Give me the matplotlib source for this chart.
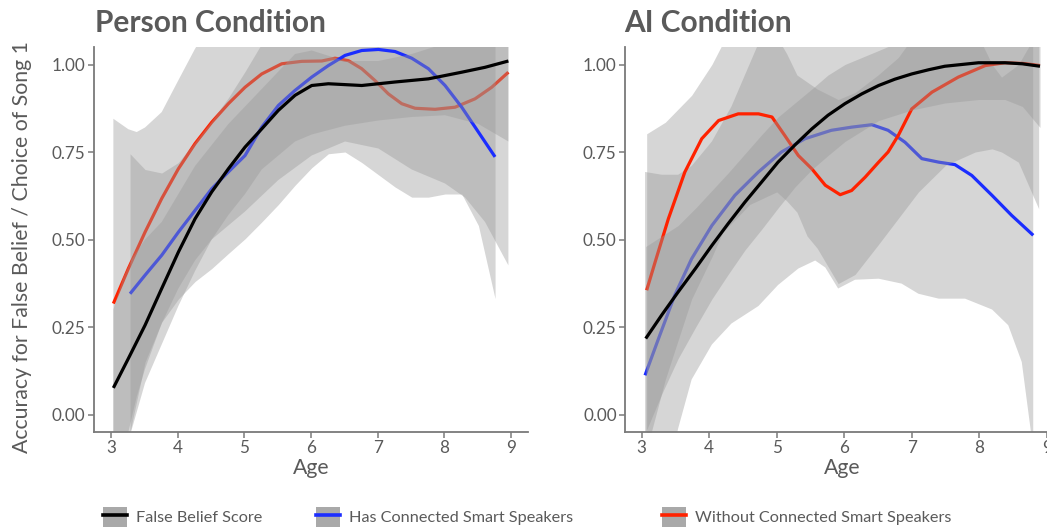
import numpy as np
import matplotlib
matplotlib.use("Agg")
import matplotlib.pyplot as plt
from matplotlib.patches import Patch
from matplotlib.lines import Line2D
from matplotlib.legend_handler import HandlerTuple

plt.rcParams['font.family'] = ['Lato', 'DejaVu Sans']

# ---------------- Person condition ----------------
p_fb_x = [3.035, 3.26, 3.51, 3.76, 4.01, 4.26, 4.51, 4.76, 5.01, 5.26, 5.51, 5.76,
          6.01, 6.26, 6.76, 7.26, 7.76, 8.26, 8.61, 8.96]
p_fb_y = [0.076, 0.16, 0.255, 0.36, 0.464, 0.559, 0.636, 0.702, 0.764, 0.816, 0.869, 0.912,
          0.94, 0.945, 0.94, 0.95, 0.959, 0.978, 0.992, 1.01]
p_fb_bx = [3.035, 3.18, 3.3, 3.51, 3.76, 4.01, 4.26, 4.51, 4.76, 5.01, 5.26, 5.51, 5.76,
           6.01, 6.51, 7.01, 7.51, 8.01, 8.51, 8.96]
p_fb_lo = [-0.3, -0.15, -0.05, 0.09, 0.2, 0.31, 0.41, 0.50, 0.57, 0.63, 0.70, 0.74, 0.78,
           0.80, 0.825, 0.84, 0.85, 0.855, 0.83, 0.78]
p_fb_hi = [0.30, 0.39, 0.44, 0.50, 0.55, 0.63, 0.71, 0.77, 0.83, 0.88, 0.93, 0.98, 1.03,
           1.04, 1.01, 1.01, 1.03, 1.06, 1.15, 1.24]

p_has_x = [3.285, 3.51, 3.76, 4.01, 4.26, 4.51, 4.76, 5.01, 5.26, 5.51, 5.76, 6.01, 6.26,
           6.51, 6.76, 7.01, 7.26, 7.51, 7.76, 8.01, 8.26, 8.51, 8.76]
p_has_y = [0.345, 0.398, 0.455, 0.521, 0.583, 0.645, 0.693, 0.740, 0.821, 0.883, 0.926, 0.964,
           0.997, 1.026, 1.04, 1.043, 1.037, 1.018, 0.988, 0.940, 0.878, 0.807, 0.736]
p_has_lo = [-0.05, 0.15, 0.264, 0.33, 0.38, 0.417, 0.46, 0.502, 0.55, 0.60, 0.655, 0.705,
            0.745, 0.75, 0.72, 0.685, 0.65, 0.621, 0.621, 0.63, 0.63, 0.54, 0.331]
p_has_hi = [0.745, 0.70, 0.69, 0.72, 0.78, 0.84, 0.905, 0.98, 1.06, 1.12, 1.16, 1.2,
            1.2, 1.2, 1.2, 1.2, 1.2, 1.2, 1.2, 1.18, 1.16, 1.15, 1.14]

p_wo_x = [3.035, 3.26, 3.51, 3.76, 4.01, 4.26, 4.51, 4.76, 5.01, 5.26, 5.56, 5.86, 6.16,
          6.36, 6.56, 6.76, 6.96, 7.16, 7.36, 7.56, 7.86, 8.16, 8.46, 8.71, 8.96]
p_wo_y = [0.317, 0.417, 0.521, 0.617, 0.702, 0.774, 0.835, 0.888, 0.935, 0.973, 1.002, 1.009,
          1.01, 1.018, 1.011, 0.988, 0.954, 0.916, 0.888, 0.875, 0.872, 0.878, 0.902, 0.935, 0.978]
p_wo_bx = [3.035, 3.26, 3.385, 3.51, 3.76, 4.01, 4.26, 4.51, 5.01, 5.51, 6.01, 6.51, 7.01,
           7.51, 8.01, 8.31, 8.61, 8.96]
p_wo_lo = [-0.3, -0.05, 0.05, 0.13, 0.26, 0.36, 0.44, 0.50, 0.58, 0.67, 0.74, 0.78, 0.76,
           0.70, 0.66, 0.62, 0.55, 0.426]
p_wo_hi = [0.845, 0.815, 0.807, 0.82, 0.864, 0.955, 1.045, 1.12, 1.2, 1.2, 1.2, 1.2, 1.2,
           1.2, 1.2, 1.2, 1.3, 1.5]

# ---------------- AI condition ----------------
a_fb_x = [3.06, 3.3, 3.54, 3.8, 4.04, 4.28, 4.53, 4.78, 5.02, 5.27, 5.52, 5.76, 6.01,
          6.26, 6.51, 6.75, 7.0, 7.25, 7.49, 7.74, 7.99, 8.38, 8.64, 8.9]
a_fb_y = [0.217, 0.285, 0.35, 0.418, 0.483, 0.545, 0.607, 0.665, 0.721, 0.77, 0.816, 0.855,
          0.888, 0.916, 0.94, 0.958, 0.973, 0.985, 0.995, 1.0, 1.005, 1.005, 1.002, 0.995]
a_fb_bx = [3.06, 3.3, 3.54, 3.8, 4.04, 4.28, 4.53, 4.78, 5.02, 5.27, 5.52, 5.76, 6.01,
           6.51, 7.0, 7.49, 7.99, 8.38, 8.64, 8.9]
a_fb_lo = [-0.05, 0.06, 0.16, 0.25, 0.33, 0.40, 0.47, 0.53, 0.59, 0.65, 0.70, 0.74, 0.78,
           0.84, 0.87, 0.89, 0.9, 0.9, 0.88, 0.82]
a_fb_hi = [0.48, 0.51, 0.54, 0.59, 0.64, 0.69, 0.745, 0.80, 0.85, 0.89, 0.93, 0.97, 1.0,
           1.04, 1.08, 1.1, 1.11, 1.11, 1.13, 1.17]

a_has_x = [3.05, 3.25, 3.49, 3.74, 4.04, 4.38, 4.73, 5.07, 5.42, 5.81, 6.11, 6.41, 6.65,
           6.9, 7.15, 7.4, 7.64, 7.89, 8.19, 8.48, 8.8]
a_has_y = [0.112, 0.217, 0.341, 0.445, 0.54, 0.626, 0.693, 0.75, 0.788, 0.812, 0.821, 0.828,
           0.812, 0.778, 0.731, 0.721, 0.714, 0.683, 0.626, 0.569, 0.512]
a_has_bx = [3.05, 3.3, 3.54, 3.74, 4.04, 4.33, 4.73, 5.02, 5.32, 5.57, 5.72, 5.91, 6.16,
            6.51, 6.85, 7.1, 7.4, 7.79, 8.19, 8.43, 8.63, 8.8]
a_has_lo = [-0.5, -0.25, -0.04, 0.10, 0.2, 0.26, 0.31, 0.37, 0.417, 0.44, 0.42, 0.36, 0.385,
            0.388, 0.374, 0.345, 0.331, 0.331, 0.3, 0.255, 0.15, -0.1]
a_has_hi = [0.693, 0.685, 0.685, 0.71, 0.78, 0.88, 1.06, 1.15, 1.2, 1.22, 1.24, 1.25, 1.27,
            1.27, 1.25, 1.2, 1.15, 1.12, 1.1, 1.1, 1.1, 1.12]

a_wo_x = [3.074, 3.2, 3.395, 3.64, 3.89, 4.14, 4.43, 4.73, 4.93, 5.12, 5.32, 5.52, 5.72,
          5.94, 6.11, 6.31, 6.51, 6.65, 6.8, 7.0, 7.3, 7.69, 8.09, 8.38, 8.65, 8.9]
a_wo_y = [0.355, 0.436, 0.559, 0.693, 0.788, 0.84, 0.859, 0.859, 0.85, 0.797, 0.74, 0.702,
          0.655, 0.628, 0.64, 0.678, 0.721, 0.75, 0.797, 0.873, 0.921, 0.964, 0.997, 1.005,
          1.003, 0.997]
a_wo_bx = [3.074, 3.35, 3.74, 4.04, 4.2, 4.6, 5.0, 5.15, 5.3, 5.45, 5.6, 5.91, 6.16, 6.5,
           6.8, 7.1, 7.5, 7.94, 8.19, 8.33, 8.58, 8.88]
a_wo_lo = [-0.1, 0.1, 0.33, 0.45, 0.52, 0.6, 0.636, 0.61, 0.578, 0.51, 0.475, 0.374, 0.40,
           0.484, 0.56, 0.636, 0.712, 0.75, 0.759, 0.75, 0.721, 0.588]
a_wo_hi = [0.802, 0.835, 0.912, 1.0, 1.06, 1.12, 1.08, 1.03, 0.97, 0.95, 0.93, 0.90, 0.92,
           0.97, 1.02, 1.1, 1.15, 1.1, 1.0, 0.964, 1.0, 1.1]

labels = ["False Belief Score", "Has Connected Smart Speakers", "Without Connected Smart Speakers"]
colors = {"fb": "black", "has": "#1b2dff", "wo": "#ff2200"}
ribbon = "#999999"
txt = "#5a5a5a"

fig = plt.figure(figsize=(10.47, 5.29), dpi=100)
W, H = 1047, 529
ax1 = fig.add_axes([93.7 / W, 97 / H, 434.3 / W, 385 / H])
ax2 = fig.add_axes([625 / W, 97 / H, 442 / W, 385 / H])


def band(ax, bx, lo, hi, x, y, c, z):
    # ribbon then its line; later ribbons wash out earlier lines
    ax.fill_between(bx, lo, hi, color=ribbon, alpha=0.4, lw=0, zorder=z)
    ax.plot(x, y, color=c, lw=2.3, solid_capstyle='butt', zorder=z + 0.5)


# person panel: red, blue, black
band(ax1, p_wo_bx, p_wo_lo, p_wo_hi, p_wo_x, p_wo_y, colors["wo"], 1)
band(ax1, p_has_x, p_has_lo, p_has_hi, p_has_x, p_has_y, colors["has"], 2)
band(ax1, p_fb_bx, p_fb_lo, p_fb_hi, p_fb_x, p_fb_y, colors["fb"], 3)

# AI panel: blue, red, black
band(ax2, a_has_bx, a_has_lo, a_has_hi, a_has_x, a_has_y, colors["has"], 1)
band(ax2, a_wo_bx, a_wo_lo, a_wo_hi, a_wo_x, a_wo_y, colors["wo"], 2)
band(ax2, a_fb_bx, a_fb_lo, a_fb_hi, a_fb_x, a_fb_y, colors["fb"], 3)

for ax, xl in ((ax1, (2.74, 9.254)), (ax2, (2.753, 9.30))):
    ax.set_xlim(*xl)
    ax.set_ylim(-0.05, 1.05)
    ax.set_xticks(range(3, 10))
    ax.set_yticks([0, 0.25, 0.5, 0.75, 1.0])
    ax.set_yticklabels(["0.00", "0.25", "0.50", "0.75", "1.00"])
    for s in ("top", "right"):
        ax.spines[s].set_visible(False)
    for s in ("left", "bottom"):
        ax.spines[s].set_color("#7a7a7a")
        ax.spines[s].set_linewidth(1.3)
        ax.spines[s].set_zorder(5)
    ax.tick_params(colors="#7a7a7a", labelcolor=txt, labelsize=12.3, length=4, width=1.1, pad=2)
    ax.set_facecolor("white")

fig.text(95 / W, 1 - 32 / H, "Person Condition", fontsize=21.5, fontweight="bold",
         color=txt, va="baseline", ha="left")
fig.text(624 / W, 1 - 32 / H, "AI Condition", fontsize=21.5, fontweight="bold",
         color=txt, va="baseline", ha="left")
fig.text(22 / W, 1 - 247 / H, "Accuracy for False Belief / Choice of Song 1", rotation=90,
         fontsize=15.3, color=txt, va="center", ha="center")
fig.text(311 / W, 1 - 474 / H, "Age", fontsize=15.3, color=txt, va="baseline", ha="center")
fig.text(842 / W, 1 - 474 / H, "Age", fontsize=15.3, color=txt, va="baseline", ha="center")

key_x = [103, 316, 662]
for lab, c, kx in zip(labels, [colors["fb"], colors["has"], colors["wo"]], key_x):
    h = (Patch(facecolor="#a9a9a9", edgecolor="none"), Line2D([], [], color=c, lw=2.6))
    fig.legend([h], [lab], loc="center left", bbox_to_anchor=(kx / W, 1 - 517 / H),
               frameon=False, fontsize=11.7, handlelength=1.45, handleheight=1.5,
               handletextpad=0.6, borderpad=0, borderaxespad=0, labelcolor=txt,
               handler_map={tuple: HandlerTuple(ndivide=1)})

fig.savefig("out.png", dpi=100)
